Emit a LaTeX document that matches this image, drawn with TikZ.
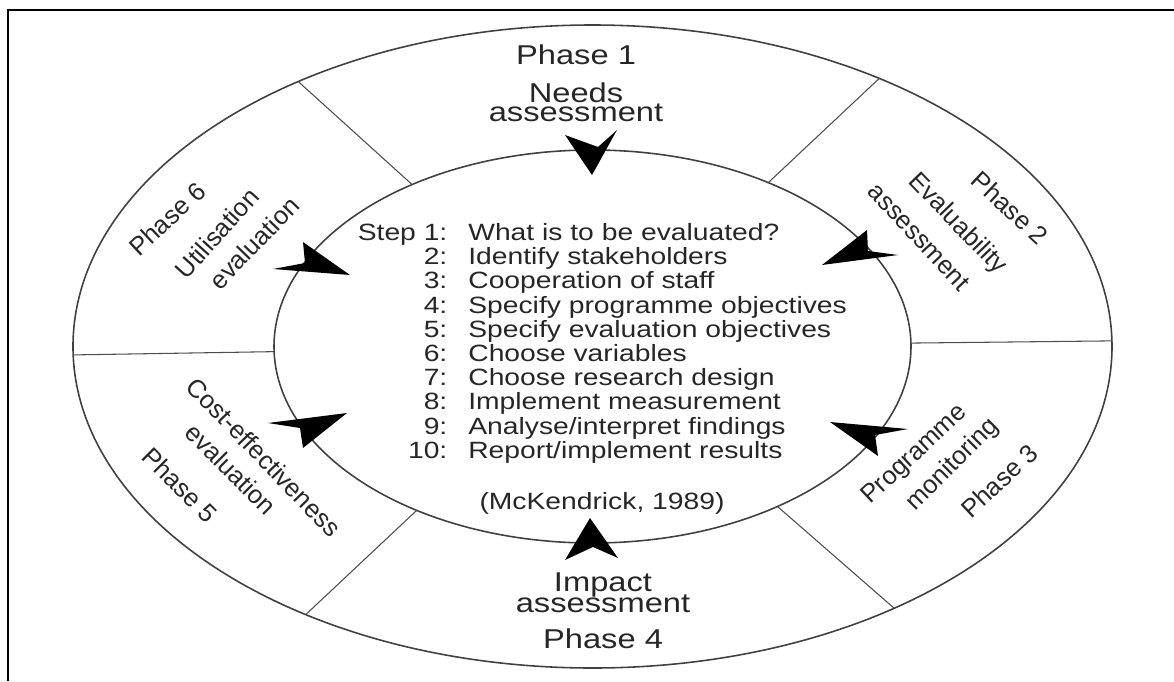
\documentclass[tikz,border=0pt]{standalone}
\usepackage{fontspec}
\setmainfont{Liberation Sans}
\newfontfamily\widesans[FakeStretch=1.2]{Liberation Sans}

\tikzset{
  ring/.style={draw=black!75, line width=0.9pt},
  divider/.style={draw=black!70, line width=0.6pt},
  dart/.style={fill=black},
  phase/.style={font=\widesans\fontsize{15.5}{18}\selectfont, text=black!85, inner sep=0pt, anchor=base},
  phaserot/.style={font=\fontsize{14.5}{17}\selectfont, text=black!85, inner sep=0pt},
  steps/.style={font=\widesans\fontsize{13.4}{13.78}\selectfont, text=black!85, inner sep=0pt, align=left}
}
\newcommand{\stepno}[1]{\makebox[1.8cm][r]{#1}\hspace{0.42cm}}

\begin{document}
\begin{tikzpicture}
    \useasboundingbox (-11.85,-6.69) rectangle (11.63,6.93);

    % Frame
    \draw[line width=1.4pt] (-11.69,-6.69) -- (-11.69,6.73) -- (11.63,6.73);

    % Rings
    \draw[ring] (0,0) ellipse (10.39 and 6.43);
    \draw[ring] (0,0) ellipse (6.37 and 3.93);

    % Dividers between the phases
    \draw[divider] (124.5:6.37 and 3.93) -- (124.5:10.39 and 6.43);
    \draw[divider] (56.5:6.37 and 3.93) -- (56.5:10.39 and 6.43);
    \draw[divider] (1:6.37 and 3.93) -- (1:10.39 and 6.43);
    \draw[divider] (-54.5:6.37 and 3.93) -- (-54.5:10.39 and 6.43);
    \draw[divider] (-123.5:6.37 and 3.93) -- (-123.5:10.39 and 6.43);
    \draw[divider] (181.5:6.37 and 3.93) -- (181.5:10.39 and 6.43);

    % Arrows into the centre
    \fill[dart] (-0.01,3.43) -- (-0.55,4.23) -- (0.11,3.99) -- (0.49,4.33) -- cycle;
    \fill[dart] (4.59,1.63) -- (5.49,2.33) -- (5.51,1.91) -- (6.11,1.83) -- cycle;
    \fill[dart] (4.75,-1.51) -- (6.31,-1.65) -- (5.65,-1.77) -- (5.71,-2.19) -- cycle;
    \fill[dart] (-0.05,-3.43) -- (-0.55,-4.27) -- (0.01,-4.01) -- (0.51,-4.23) -- cycle;
    \fill[dart] (-4.91,-1.33) -- (-6.49,-1.53) -- (-5.85,-1.63) -- (-5.79,-2.03) -- cycle;
    \fill[dart] (-4.85,1.43) -- (-6.39,1.55) -- (-5.75,1.67) -- (-5.79,2.09) -- cycle;

    % Phase 1
    \node[phase] (p1) at (-0.33,5.65) {Phase 1};
    \node[phase] (p1a) at (-0.33,4.89) {Needs};
    \node[phase] (p1b) at (-0.33,4.51) {assessment};

    % Phase 2
    \node[phaserot, rotate=-43] (p2) at (8.35,2.77) {Phase 2};
    \node[phaserot, rotate=-46] (p2a) at (7.29,2.45) {Evaluability};
    \node[phaserot, rotate=-47] (p2b) at (6.53,2.19) {assessment};

    % Phase 3
    \node[phaserot, rotate=43] (p3a) at (6.45,-2.17) {Programme};
    \node[phaserot, rotate=45] (p3b) at (7.21,-2.37) {monitoring};
    \node[phaserot, rotate=43] (p3) at (8.13,-2.69) {Phase 3};

    % Phase 4
    \node[phase] (p4a) at (0.21,-4.89) {Impact};
    \node[phase] (p4b) at (0.21,-5.31) {assessment};
    \node[phase] (p4) at (0.21,-6.03) {Phase 4};

    % Phase 5
    \node[phaserot, rotate=-46] (p5a) at (-6.57,-2.21) {Cost-effectiveness};
    \node[phaserot, rotate=-45] (p5b) at (-7.23,-2.45) {evaluation};
    \node[phaserot, rotate=-45] (p5) at (-8.25,-2.77) {Phase 5};

    % Phase 6
    \node[phaserot, rotate=43] (p6) at (-8.51,2.55) {Phase 6};
    \node[phaserot, rotate=48] (p6a) at (-7.51,2.27) {Utilisation};
    \node[phaserot, rotate=46] (p6b) at (-6.77,2.07) {evaluation};

    % Steps in the centre
    \node[steps, anchor=north west] (steps) at (-4.71,2.47) {%
        \stepno{Step 1:}What is to be evaluated?\\
        \stepno{2:}Identify stakeholders\\
        \stepno{3:}Cooperation of staff\\
        \stepno{4:}Specify programme objectives\\
        \stepno{5:}Specify evaluation objectives\\
        \stepno{6:}Choose variables\\
        \stepno{7:}Choose research design\\
        \stepno{8:}Implement measurement\\
        \stepno{9:}Analyse/interpret findings\\
        \stepno{10:}Report/implement results};
    \node[steps] (source) at (0.19,-3.13) {(McKendrick, 1989)};
\end{tikzpicture}
\end{document}
